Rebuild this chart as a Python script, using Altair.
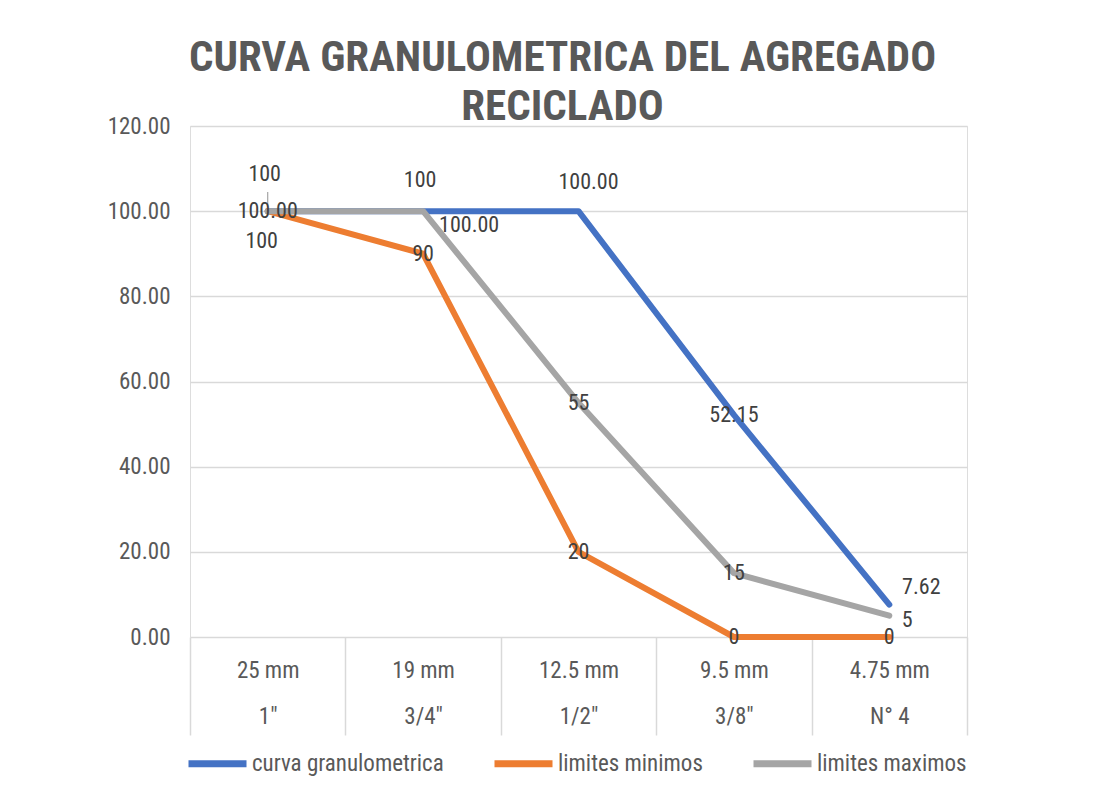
import altair as alt
import pandas as pd

categories = ["25 mm|1\"", "19 mm|3/4\"", "12.5 mm|1/2\"", "9.5 mm|3/8\"", "4.75 mm|N° 4"]
series_names = ["curva granulometrica", "limites minimos", "limites maximos"]
curva = [100.00, 100.00, 100.00, 52.15, 7.62]
minimos = [100, 90, 20, 0, 0]
maximos = [100, 100, 55, 15, 5]

colors = ["#4472C4", "#ED7D31", "#A5A5A5"]
FONT = "Liberation Sans Narrow, Roboto Condensed, Liberation Sans, sans-serif"
TXT = "#595959"
FS = 23

rows = []
for name, vals, fmt in [(series_names[0], curva, "{:.2f}"),
                        (series_names[1], minimos, "{:.0f}"),
                        (series_names[2], maximos, "{:.0f}")]:
    for i, (c, v) in enumerate(zip(categories, vals)):
        rows.append({"serie": name, "cat": c, "idx": i, "valor": v, "etiqueta": fmt.format(v)})
df = pd.DataFrame(rows)

xenc = alt.X("cat:N", sort=categories, title=None,
             scale=alt.Scale(paddingInner=0, paddingOuter=0),
             axis=alt.Axis(labelExpr="split(datum.label, '|')", labelAngle=0,
                           labelFontSize=FS, labelColor=TXT, labelFont=FONT,
                           labelLineHeight=46, labelPadding=-76,
                           tickBand="extent", ticks=True, tickSize=98,
                           tickColor="#d9d9d9", tickWidth=1.5, domain=False, grid=False))
yenc = alt.Y("valor:Q", title=None,
             scale=alt.Scale(domain=[0, 120], nice=False),
             axis=alt.Axis(values=[0, 20, 40, 60, 80, 100, 120], format=".2f",
                           labelFontSize=FS, labelColor=TXT, labelFont=FONT,
                           labelPadding=20, ticks=False, domain=False,
                           gridColor="#d9d9d9", gridWidth=1.5))
color = alt.Color("serie:N", title=None,
                  scale=alt.Scale(domain=series_names, range=colors),
                  legend=alt.Legend(orient="none", direction="horizontal",
                                    legendX=-5, legendY=605,
                                    symbolType="stroke", symbolSize=3364,
                                    symbolStrokeWidth=7, labelFontSize=FS,
                                    labelColor=TXT, labelFont=FONT, labelLimit=400,
                                    columnPadding=36, labelOffset=2))

base = alt.Chart(df)
layers = []
for name in series_names:
    layers.append(base.transform_filter(alt.datum.serie == name)
                  .mark_line(strokeWidth=6, strokeJoin="round", strokeCap="round")
                  .encode(x=xenc, y=yenc, color=color))

# leader line for the first "limites maximos" label
layers.append(base.transform_filter((alt.datum.serie == series_names[2]) & (alt.datum.idx == 0))
              .mark_rule(color="#A5A5A5", strokeWidth=1.2)
              .encode(x=alt.X("cat:N", sort=categories),
                      y=alt.Y(datum=101, scale=alt.Scale(domain=[0, 120], nice=False)),
                      y2=alt.Y2(datum=104.5)))

# label placement (dx, dy) per series and category index
placement = {
    (0, 0): (0, 0), (0, 1): (46, 14), (0, 2): (10, -29), (0, 3): (0, 0), (0, 4): (32, -18),
    (1, 0): (-6, 30), (1, 1): (0, 0), (1, 2): (0, 0), (1, 3): (0, 0), (1, 4): (0, 0),
    (2, 0): (-3, -37), (2, 1): (-3, -31), (2, 2): (0, 0), (2, 3): (0, 0), (2, 4): (18, 4),
}
for (s, i), (dx, dy) in placement.items():
    layers.append(base.transform_filter((alt.datum.serie == series_names[s]) & (alt.datum.idx == i))
                  .mark_text(dx=dx, dy=dy, fontSize=FS - 1, font=FONT, color="#404040",
                             align="center", baseline="middle")
                  .encode(x=alt.X("cat:N", sort=categories), y="valor:Q", text="etiqueta:N"))

chart = alt.layer(*layers).properties(
    width=777, height=511,
    title=alt.TitleParams(["CURVA GRANULOMETRICA DEL AGREGADO", "RECICLADO"],
                          fontSize=43, font=FONT, fontWeight="bold", color=TXT,
                          anchor="middle", lineHeight=49, offset=-14, dx=-16),
    autosize=alt.AutoSizeParams(type="none"),
    padding={"left": 182, "top": 118, "right": 130, "bottom": 140},
).configure_view(stroke=None).configure(background="white")

chart.save("out.html", embed_options={"renderer": "svg", "actions": False})
